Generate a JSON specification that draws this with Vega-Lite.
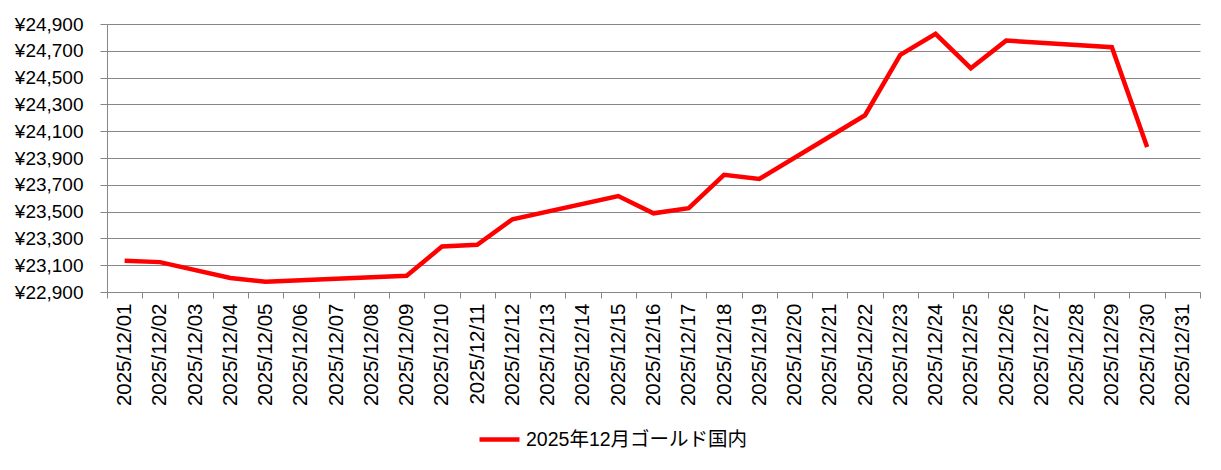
{
  "$schema": "https://vega.github.io/schema/vega-lite/v6.json",
  "width": 1093,
  "height": 268,
  "autosize": "none",
  "padding": {"left": 107, "top": 24, "right": 21, "bottom": 178},
  "background": "white",
  "data": {
    "values": [
      {"date": "2025/12/01", "price": 23133, "series": "2025年12月ゴールド国内"},
      {"date": "2025/12/02", "price": 23123, "series": "2025年12月ゴールド国内"},
      {"date": "2025/12/03", "price": null, "series": "2025年12月ゴールド国内"},
      {"date": "2025/12/04", "price": 23004, "series": "2025年12月ゴールド国内"},
      {"date": "2025/12/05", "price": 22977, "series": "2025年12月ゴールド国内"},
      {"date": "2025/12/06", "price": null, "series": "2025年12月ゴールド国内"},
      {"date": "2025/12/07", "price": null, "series": "2025年12月ゴールド国内"},
      {"date": "2025/12/08", "price": null, "series": "2025年12月ゴールド国内"},
      {"date": "2025/12/09", "price": 23021, "series": "2025年12月ゴールド国内"},
      {"date": "2025/12/10", "price": 23239, "series": "2025年12月ゴールド国内"},
      {"date": "2025/12/11", "price": 23252, "series": "2025年12月ゴールド国内"},
      {"date": "2025/12/12", "price": 23443, "series": "2025年12月ゴールド国内"},
      {"date": "2025/12/13", "price": null, "series": "2025年12月ゴールド国内"},
      {"date": "2025/12/14", "price": null, "series": "2025年12月ゴールド国内"},
      {"date": "2025/12/15", "price": 23616, "series": "2025年12月ゴールド国内"},
      {"date": "2025/12/16", "price": 23487, "series": "2025年12月ゴールド国内"},
      {"date": "2025/12/17", "price": 23525, "series": "2025年12月ゴールド国内"},
      {"date": "2025/12/18", "price": 23775, "series": "2025年12月ゴールド国内"},
      {"date": "2025/12/19", "price": 23743, "series": "2025年12月ゴールド国内"},
      {"date": "2025/12/20", "price": null, "series": "2025年12月ゴールド国内"},
      {"date": "2025/12/21", "price": null, "series": "2025年12月ゴールド国内"},
      {"date": "2025/12/22", "price": 24219, "series": "2025年12月ゴールド国内"},
      {"date": "2025/12/23", "price": 24670, "series": "2025年12月ゴールド国内"},
      {"date": "2025/12/24", "price": 24826, "series": "2025年12月ゴールド国内"},
      {"date": "2025/12/25", "price": 24570, "series": "2025年12月ゴールド国内"},
      {"date": "2025/12/26", "price": 24776, "series": "2025年12月ゴールド国内"},
      {"date": "2025/12/27", "price": null, "series": "2025年12月ゴールド国内"},
      {"date": "2025/12/28", "price": null, "series": "2025年12月ゴールド国内"},
      {"date": "2025/12/29", "price": 24727, "series": "2025年12月ゴールド国内"},
      {"date": "2025/12/30", "price": 23983, "series": "2025年12月ゴールド国内"},
      {"date": "2025/12/31", "price": null, "series": "2025年12月ゴールド国内"}
    ]
  },
  "transform": [{"filter": "datum.price != null"}],
  "mark": {"type": "line", "strokeWidth": 4.5, "strokeJoin": "miter", "strokeCap": "butt"},
  "encoding": {
    "x": {
      "field": "date",
      "type": "ordinal",
      "bandPosition": 0.5,
      "scale": {
        "type": "band",
        "padding": 0,
        "domain": ["2025/12/01", "2025/12/02", "2025/12/03", "2025/12/04", "2025/12/05", "2025/12/06", "2025/12/07", "2025/12/08", "2025/12/09", "2025/12/10", "2025/12/11", "2025/12/12", "2025/12/13", "2025/12/14", "2025/12/15", "2025/12/16", "2025/12/17", "2025/12/18", "2025/12/19", "2025/12/20", "2025/12/21", "2025/12/22", "2025/12/23", "2025/12/24", "2025/12/25", "2025/12/26", "2025/12/27", "2025/12/28", "2025/12/29", "2025/12/30", "2025/12/31"]
      },
      "axis": {
        "title": null,
        "labelAngle": -90,
        "labelAlign": "right",
        "labelBaseline": "middle",
        "labelPadding": 5,
        "labelFontSize": 20.5,
        "tickBand": "extent",
        "tickSize": 6,
        "grid": false,
        "domainColor": "#868686",
        "tickColor": "#868686"
      }
    },
    "y": {
      "field": "price",
      "type": "quantitative",
      "scale": {"domain": [22900, 24900], "nice": false, "zero": false},
      "axis": {
        "title": null,
        "values": [22900, 23100, 23300, 23500, 23700, 23900, 24100, 24300, 24500, 24700, 24900],
        "labelExpr": "'¥' + format(datum.value, ',')",
        "tickSize": 7,
        "labelPadding": 17,
        "grid": true,
        "gridColor": "#868686",
        "domainColor": "#868686",
        "tickColor": "#868686"
      }
    },
    "color": {
      "field": "series",
      "type": "nominal",
      "scale": {"range": ["#FF0000"]},
      "legend": {
        "title": null,
        "orient": "none",
        "legendX": 370,
        "legendY": 393,
        "symbolType": "stroke",
        "symbolSize": 1600,
        "symbolStrokeWidth": 4.5,
        "labelOffset": 4,
        "labelFontSize": 19.5,
        "labelLimit": 0,
        "labelColor": "#000000"
      }
    }
  },
  "config": {
    "font": "Liberation Sans, Noto Sans CJK JP",
    "view": {"stroke": null},
    "axis": {
      "labelFont": "Liberation Sans",
      "labelFontSize": 19,
      "labelColor": "#000000",
      "domainWidth": 1,
      "tickWidth": 1,
      "gridWidth": 1
    },
    "legend": {"labelFont": "Liberation Sans, Noto Sans CJK JP"}
  }
}
